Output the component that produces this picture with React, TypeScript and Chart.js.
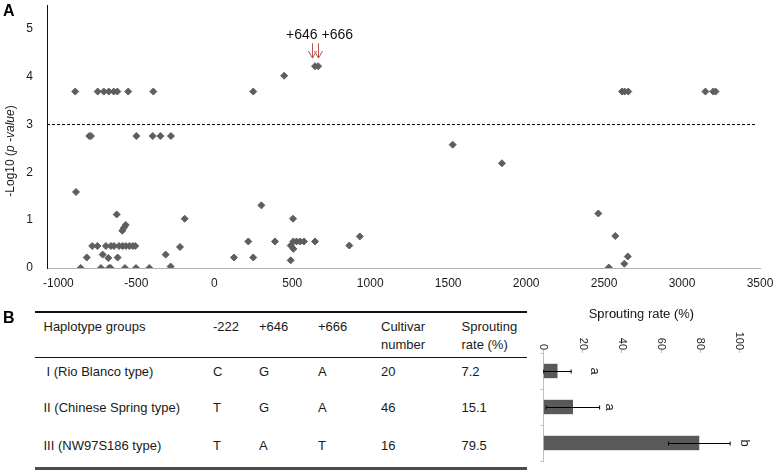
import React, { useEffect, useRef } from 'react';
import { Chart, registerables } from 'chart.js';

Chart.register(...registerables);

const FONT = '"Liberation Sans", Arial, Helvetica, sans-serif';

// ---------- Panel A data ----------
const snpPositions = [
  -892, -748, -709, -677, -645, -622, -552, -391, 250, 2615, 2632, 2655, 3150, 3200, 3215,
  448, 646, 666,
  -802, -791, -500, -395, -346, -278,
  1529, 1845, -887, -626, 302, -190, 505,
  -590, -580, -568,
  2463, 2572, 2652, 2630, 2530,
  -783, -750, -695, -663, -643, -611, -588, -567, -545, -523, -507,
  -818, -680, -620, 126, 250,
  -716, -312, -220,
  -857, -727, -675, -665, -573, -502, -417, -280,
  218, 389, 507, 528, 550, 575, 646,
  490, 866, 507, 490, 933,
];
const negLogP = [
  3.69, 3.69, 3.69, 3.69, 3.69, 3.69, 3.69, 3.69, 3.69, 3.69, 3.69, 3.69, 3.69, 3.69, 3.69,
  4.02, 4.22, 4.22,
  2.76, 2.76, 2.76, 2.76, 2.76, 2.76,
  2.58, 2.19, 1.59, 1.12, 1.31, 1.03, 1.03,
  0.78, 0.84, 0.9,
  1.14, 0.67, 0.24, 0.09, 0.01,
  0.46, 0.46, 0.46, 0.46, 0.46, 0.46, 0.46, 0.46, 0.46, 0.46, 0.46,
  0.22, 0.21, 0.22, 0.22, 0.22,
  0.28, 0.28, 0.44,
  0.0, 0.0, 0.0, 0.0, 0.0, 0.0, 0.0, 0.03,
  0.555, 0.555, 0.555, 0.555, 0.555, 0.555, 0.555,
  0.47, 0.47, 0.4, 0.16, 0.66,
];
const xTickValues = [-1000, -500, 0, 500, 1000, 1500, 2000, 2500, 3000, 3500];
const yTickValues = [0, 1, 2, 3, 4, 5];
const thresholdY = 3;
const highlighted = [646, 666];
const highlightLabel = '+646 +666';

// ---------- Panel B data ----------
const haplotypeGroups = ['I (Rio Blanco type)', 'II (Chinese Spring type)', 'III (NW97S186 type)'];
const allele222 = ['C', 'T', 'T'];
const allele646 = ['G', 'G', 'A'];
const allele666 = ['A', 'A', 'T'];
const cultivarNumbers = ['20', '46', '16'];
const sproutingRates = [7.2, 15.1, 79.5];
const sproutingErrors = [7.0, 13.6, 15.7];
const significanceLetters = ['a', 'a', 'b'];
const letterValues = [26, 34, 102.5];
const rateTickStep = 20;

const annotPlugin = {
  id: 'annotA',
  afterDatasetsDraw(chart: any) {
    const { ctx, scales } = chart;
    const x = scales.x;
    const y = scales.y;
    ctx.save();
    ctx.font = `14px ${FONT}`;
    ctx.fillStyle = '#111';
    ctx.textAlign = 'center';
    ctx.textBaseline = 'middle';
    ctx.fillText(highlightLabel, x.getPixelForValue(675), y.getPixelForValue(4.87));
    ctx.strokeStyle = '#c0504d';
    ctx.lineWidth = 1;
    highlighted.forEach((v, i) => {
      const px = Math.round(x.getPixelForValue(v) + (i === 0 ? -3 : 0)) + 0.5;
      const top = y.getPixelForValue(4.7);
      const tip = y.getPixelForValue(4.39);
      ctx.beginPath();
      ctx.moveTo(px, top);
      ctx.lineTo(px, tip);
      ctx.moveTo(px - 4, tip - 7);
      ctx.lineTo(px, tip);
      ctx.lineTo(px + 4, tip - 7);
      ctx.stroke();
    });
    ctx.restore();
  },
};

const errPlugin = {
  id: 'errB',
  afterDatasetsDraw(chart: any) {
    const { ctx, scales } = chart;
    const y = scales.y;
    const meta = chart.getDatasetMeta(0);
    ctx.save();
    ctx.strokeStyle = '#000';
    ctx.lineWidth = 1;
    ctx.font = `13px ${FONT}`;
    ctx.fillStyle = '#222';
    ctx.textAlign = 'center';
    ctx.textBaseline = 'middle';
    meta.data.forEach((bar: any, i: number) => {
      const u = Math.round(bar.x) + 0.5;
      const lo = y.getPixelForValue(sproutingRates[i] - sproutingErrors[i]);
      const hi = y.getPixelForValue(sproutingRates[i] + sproutingErrors[i]);
      ctx.beginPath();
      ctx.moveTo(u, lo);
      ctx.lineTo(u, hi);
      ctx.moveTo(u - 2, lo);
      ctx.lineTo(u + 2, lo);
      ctx.moveTo(u - 2, hi);
      ctx.lineTo(u + 2, hi);
      ctx.stroke();
      ctx.fillText(significanceLetters[i], bar.x, y.getPixelForValue(letterValues[i]));
    });
    ctx.restore();
  },
};

function ScatterA() {
  const ref = useRef<HTMLCanvasElement | null>(null);
  useEffect(() => {
    if (!ref.current) return;
    const points = snpPositions.map((x, i) => ({ x, y: negLogP[i] }));
    const chart = new Chart(ref.current, {
      type: 'scatter',
      data: {
        datasets: [
          {
            data: points,
            pointStyle: 'rectRot',
            pointRadius: 3.5,
            backgroundColor: '#5e5e5e',
            borderColor: '#5e5e5e',
            borderWidth: 1,
          } as any,
          {
            data: [
              { x: -1073, y: thresholdY },
              { x: 3475, y: thresholdY },
            ],
            showLine: true,
            borderColor: '#000',
            borderWidth: 1,
            borderDash: [3, 2],
            pointRadius: 0,
          } as any,
        ],
      },
      options: {
        responsive: false,
        animation: false,
        layout: { padding: { left: 0, right: 15, top: 3, bottom: 0 } },
        plugins: { legend: { display: false }, tooltip: { enabled: false } },
        scales: {
          x: {
            type: 'linear',
            min: -1073,
            max: 3500,
            grid: { display: false, drawTicks: false },
            border: { display: true, color: '#b3b3b3', width: 1 },
            ticks: {
              font: { size: 12, family: FONT },
              color: '#1a1a1a',
              padding: 8,
              maxRotation: 0,
              callback: (v: any) => String(v),
            },
            afterBuildTicks: (s: any) => {
              s.ticks = xTickValues.map((v) => ({ value: v }));
            },
            afterFit: (s: any) => {
              s.height = 27;
              s.paddingLeft = 0;
              s.paddingRight = 0;
            },
          },
          y: {
            min: 0,
            max: 5.5,
            grid: { display: false, drawTicks: false },
            border: { display: true, color: '#111', width: 1 },
            ticks: { font: { size: 12, family: FONT }, color: '#1a1a1a', padding: 14, callback: (v: any) => String(v) },
            afterBuildTicks: (s: any) => {
              s.ticks = yTickValues.map((v) => ({ value: v }));
            },
            afterFit: (s: any) => {
              s.width = 47;
              s.paddingTop = 0;
              s.paddingBottom = 0;
            },
          },
        },
      } as any,
      plugins: [annotPlugin],
    });
    return () => chart.destroy();
  }, []);
  return <canvas ref={ref} width={775} height={295} style={{ position: 'absolute', left: 0, top: 0, width: 775, height: 295 }} />;
}

const BW = 174; // pre-rotation width
const BH = 245; // pre-rotation height

function BarsB() {
  const ref = useRef<HTMLCanvasElement | null>(null);
  useEffect(() => {
    if (!ref.current) return;
    const chart = new Chart(ref.current, {
      type: 'bar',
      data: {
        labels: haplotypeGroups,
        datasets: [
          {
            data: sproutingRates,
            backgroundColor: '#595959',
            borderWidth: 0,
            barPercentage: 0.4,
            categoryPercentage: 1,
          },
        ],
      },
      options: {
        responsive: false,
        animation: false,
        layout: { padding: { left: 0, right: 9, top: 35.5, bottom: 0 } },
        plugins: { legend: { display: false }, tooltip: { enabled: false } },
        scales: {
          x: {
            ticks: { display: false },
            grid: { offset: true, drawOnChartArea: false, drawTicks: true, tickLength: 3, color: '#bfbfbf' },
            border: { display: true, color: '#bfbfbf', width: 1 },
            afterFit: (s: any) => {
              s.height = BH - 231.7;
              s.paddingLeft = 0;
              s.paddingRight = 0;
            },
          },
          y: {
            min: 0,
            max: 100,
            ticks: {
              stepSize: rateTickStep,
              font: { size: 11, family: FONT },
              color: '#1a1a1a',
              padding: 0,
              callback: (v: any) => String(v),
            },
            grid: { drawOnChartArea: false, drawTicks: true, tickLength: 3, color: '#bfbfbf' },
            border: { display: false },
            title: {
              display: true,
              text: 'Sprouting rate (%)',
              font: { size: 13, family: FONT },
              color: '#1a1a1a',
              padding: { top: 11, bottom: 0 },
            },
            afterFit: (s: any) => {
              s.width = 57;
              s.paddingTop = 0;
              s.paddingBottom = 0;
            },
          },
        },
      } as any,
      plugins: [errPlugin],
    });
    return () => chart.destroy();
  }, []);
  return (
    <div
      style={{
        position: 'absolute',
        left: 0,
        top: 0,
        width: BW,
        height: BH,
        transformOrigin: '0 0',
        transform: `translate(775px, 296px) rotate(90deg)`,
      }}
    >
      <canvas ref={ref} width={BW} height={BH} style={{ width: BW, height: BH, display: 'block' }} />
    </div>
  );
}

function Txt({ x, y, children, size = 13 }: { x: number; y: number; children: any; size?: number }) {
  return (
    <div
      style={{
        position: 'absolute',
        left: x,
        top: y - 8,
        lineHeight: '16px',
        fontSize: size,
        whiteSpace: 'nowrap',
        color: '#1a1a1a',
      }}
    >
      {children}
    </div>
  );
}

const colX = [43.5, 213, 259, 318, 381, 461.5];
const rowY = [371.7, 408.3, 445.7];

export default function App() {
  return (
    <div
      style={{
        position: 'absolute',
        left: 0,
        top: 0,
        width: 775,
        height: 470,
        background: '#fff',
        overflow: 'hidden',
        fontFamily: FONT,
      }}
    >
      <ScatterA />
      <div style={{ position: 'absolute', left: 3, top: 2, fontSize: 16, fontWeight: 'bold', lineHeight: '18px' }}>A</div>
      <div style={{ position: 'absolute', left: 3, top: 308.5, fontSize: 16, fontWeight: 'bold', lineHeight: '18px' }}>B</div>
      <div
        style={{
          position: 'absolute',
          left: 10,
          top: 151,
          transformOrigin: '0 0',
          transform: 'rotate(-90deg) translate(-50%, -50%)',
          fontSize: 12,
          lineHeight: '14px',
          whiteSpace: 'nowrap',
          color: '#1a1a1a',
        }}
      >
        -Log10 (<i>p -value</i>)
      </div>

      {/* Table */}
      <div style={{ position: 'absolute', left: 35, top: 311, width: 492, height: 2, background: '#111' }} />
      <div style={{ position: 'absolute', left: 35, top: 356.5, width: 492, height: 1.5, background: '#111' }} />
      <div style={{ position: 'absolute', left: 35, top: 466.5, width: 492, height: 3, background: '#4d4d4d' }} />
      <Txt x={colX[0]} y={327}>Haplotype groups</Txt>
      <Txt x={colX[1]} y={327}>-222</Txt>
      <Txt x={colX[2]} y={327}>+646</Txt>
      <Txt x={colX[3]} y={327}>+666</Txt>
      <Txt x={colX[4]} y={327}>Cultivar</Txt>
      <Txt x={colX[4]} y={345}>number</Txt>
      <Txt x={colX[5]} y={327}>Sprouting</Txt>
      <Txt x={colX[5]} y={345}>rate (%)</Txt>
      {haplotypeGroups.map((g, i) => (
        <React.Fragment key={g}>
          <Txt x={colX[0] + (i === 0 ? 3 : 0)} y={rowY[i]}>{g}</Txt>
          <Txt x={colX[1]} y={rowY[i]}>{allele222[i]}</Txt>
          <Txt x={colX[2]} y={rowY[i]}>{allele646[i]}</Txt>
          <Txt x={colX[3]} y={rowY[i]}>{allele666[i]}</Txt>
          <Txt x={colX[4]} y={rowY[i]}>{cultivarNumbers[i]}</Txt>
          <Txt x={colX[5]} y={rowY[i]}>{sproutingRates[i].toFixed(1)}</Txt>
        </React.Fragment>
      ))}

      <BarsB />
    </div>
  );
}
